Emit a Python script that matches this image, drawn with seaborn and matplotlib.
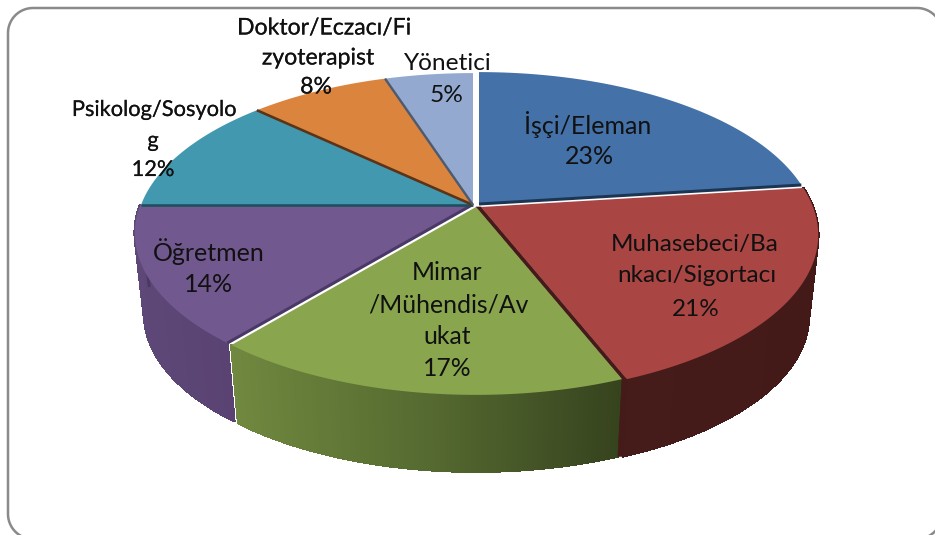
import numpy as np
import matplotlib
matplotlib.use("Agg")
import matplotlib.pyplot as plt
import matplotlib.patheffects as pe
from matplotlib.collections import PolyCollection
from matplotlib.colors import to_rgb
from matplotlib.patches import Polygon
from matplotlib.path import Path
import seaborn as sns

# ---------- data ----------
categories = ["İşçi/Eleman", "Muhasebeci/Bankacı/Sigortacı", "Mimar/Mühendis/Avukat",
              "Öğretmen", "Psikolog/Sosyolog", "Doktor/Eczacı/Fizyoterapist", "Yönetici"]
values = [23, 21, 17, 14, 12, 8, 5]
label_lines = [
    ["İşçi/Eleman", "23%"],
    ["Muhasebeci/Ba", "nkacı/Sigortacı", "21%"],
    ["Mimar", "/Mühendis/Av", "ukat", "17%"],
    ["Öğretmen", "14%"],
    ["Psikolog/Sosyolo", "g", "12%"],
    ["Doktor/Eczacı/Fi", "zyoterapist", "8%"],
    ["Yönetici", "5%"],
]
colors = ["#4472A8", "#A94543", "#89A54E", "#71588F", "#4198AF", "#DB843D", "#93A9CF"]
edge_colors = ["#1C3553", "#451B19", "#37441F", "#4A3866", "#1F4E5E", "#5C3316", "#4D5A70"]
wall_stops = [None,
              ["#451C19", "#431A18"],
              ["#70883F", "#556A30", "#36431E"],
              ["#5D4878", "#5A4372"],
              None, None, None]
offsets = [(4, -1), (6, 2), (1, 2), (-3, 0), (-2, 0), (-2, 0), (-2, 0)]
edge_side = [("end", 3.0), (None, 0), (None, 0), ("start", 3.0), ("start", 2.6), ("start", 2.6), ("start", 2.4)]

sns.set_theme(style="white")
plt.rcParams["font.family"] = ["Lato", "DejaVu Sans"]

W, H = 935, 535
fig = plt.figure(figsize=(W / 100, H / 100), dpi=100, facecolor="white")
ax = fig.add_axes([0, 0, 1, 1])

wedges, _ = ax.pie(values, colors=colors, startangle=90, counterclock=False)

CX, CY, A, B, K = 475.0, 205.0, 155.0, 332.0, 0.175
DEPTH, SHRINK = 82.0, 0.972


def project(deg, off=(0, 0), depth=0.0, shrink=1.0):
    t = np.radians(np.asarray(deg, dtype=float))
    X, Y = np.cos(t), np.sin(t)
    w = 1 + K * Y
    return np.column_stack([CX + off[0] + shrink * B * X / w,
                            CY + off[1] + depth - shrink * A * Y / w])


# side walls, built as thin strips so that they can carry a gradient
for i, wedge in enumerate(wedges):
    if wall_stops[i] is None:
        continue
    th = np.arange(wedge.theta1, wedge.theta2 + 0.5, 0.75)
    th[-1] = wedge.theta2
    top = project(th, off=offsets[i])
    bot = project(th, off=offsets[i], depth=DEPTH, shrink=SHRINK)
    stops = np.array([to_rgb(c) for c in wall_stops[i]])
    xs = top[:, 0]
    frac = (xs - xs.min()) / max(np.ptp(xs), 1)
    polys, cols = [], []
    for j in range(len(th) - 1):
        polys.append([top[j], top[j + 1], bot[j + 1], bot[j]])
        f = frac[j] * (len(stops) - 1)
        cols.append([np.interp(f, np.arange(len(stops)), stops[:, c]) for c in range(3)])
    ax.add_collection(PolyCollection(polys, facecolors=cols, edgecolors=cols, linewidths=1.2,
                                     antialiaseds=False, zorder=1))

# the radial face that the exploded red slice shows towards the green one
red, green, purple = wedges[1], wedges[2], wedges[3]
red_tip = [CX + offsets[1][0], CY + offsets[1][1]]
green_tip = [CX + offsets[2][0], CY + offsets[2][1]]
red_top = project([red.theta1], off=offsets[1])[0]
red_bot = project([red.theta1], off=offsets[1], depth=DEPTH, shrink=SHRINK)[0]
green_top = project([green.theta2], off=offsets[2])[0]
green_bot = project([green.theta2], off=offsets[2], depth=DEPTH, shrink=SHRINK)[0]
ax.add_patch(Polygon([red_tip, red_top, red_bot, green_bot, green_top, green_tip],
                     closed=True, fc=edge_colors[1], ec=edge_colors[1], lw=0.5, zorder=1.5))

# the seam on the wall between the purple and the green slice
seam_top = project([purple.theta1], off=offsets[3])[0]
seam_bot = project([purple.theta1], off=offsets[3], depth=DEPTH, shrink=SHRINK)[0]
ax.plot([seam_top[0], seam_bot[0]], [seam_top[1], seam_bot[1]], color=edge_colors[3], lw=2.2,
        solid_capstyle="butt", zorder=1.6)

# top faces: the wedges of the pie, reprojected
for i, wedge in enumerate(wedges):
    th = np.linspace(wedge.theta1, wedge.theta2, 80)
    rim = project(th, off=offsets[i])
    centre = np.array([[CX + offsets[i][0], CY + offsets[i][1]]])
    pts = np.vstack([centre, rim, centre])
    wedge._path = Path(pts, closed=True)
    wedge.set_zorder(2)
    wedge.set_edgecolor("none")

# dark radial faces between neighbours
for i, wedge in enumerate(wedges):
    side, lw = edge_side[i]
    if side is None:
        continue
    ang = wedge.theta2 if side == "start" else wedge.theta1
    tip = [CX + offsets[i][0], CY + offsets[i][1]]
    end = project([ang], off=offsets[i])[0]
    ax.plot([tip[0], end[0]], [tip[1], end[1]], color=edge_colors[i], lw=lw * 0.72,
            solid_capstyle="butt", zorder=3)

# labels, one per line
label_x = [[588, 589], [695, 697, 696], [447, 448, 447, 447], [209, 209],
           [154, 153, 153], [324, 318, 316], [447, 447]]
label_y = [[124, 157], [244, 276, 309], [272, 305, 337, 369], [252, 284],
           [110, 141, 170], [28, 58, 87], [63, 95]]
label_size = [18, 17.5, 17.8, 18, 15.7, 16.6, 17.6]
label_stroke = [0, 0, 0, 0, 0.12, 0.12, 0]
for i, lines in enumerate(label_lines):
    for line, x, y in zip(lines, label_x[i], label_y[i]):
        t = ax.text(x, y, line, ha="center", va="center", fontsize=label_size[i],
                    color="#111111", zorder=5)
        if label_stroke[i]:
            t.set_path_effects([pe.withStroke(linewidth=label_stroke[i], foreground="#111111")])

# rounded chart frame, running off the right and bottom of the picture
L, T, RT, BM, R = 8, 8, 942, 539, 25
corner = np.linspace(0, np.pi / 2, 20)
frame = np.vstack([
    np.column_stack([L + R - R * np.cos(corner), T + R - R * np.sin(corner)]),
    np.column_stack([RT - R + R * np.sin(corner), T + R - R * np.cos(corner)]),
    np.column_stack([RT - R + R * np.cos(corner), BM - R + R * np.sin(corner)]),
    np.column_stack([L + R - R * np.sin(corner), BM - R + R * np.cos(corner)]),
])
ax.add_patch(Polygon(frame, closed=True, fc="none", ec="#8A8A8A", lw=1.8, zorder=6))

ax.set_aspect("auto")
ax.set_xlim(0, W)
ax.set_ylim(H, 0)
ax.axis("off")
fig.savefig("out.png", dpi=100, facecolor="white")
